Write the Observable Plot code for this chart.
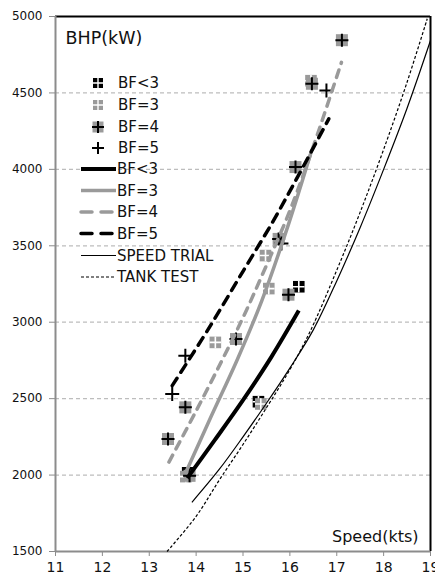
<!DOCTYPE html>
<html><head><meta charset="utf-8">
<script src="https://cdn.jsdelivr.net/npm/d3@7"></script>
<script src="https://cdn.jsdelivr.net/npm/@observablehq/plot@0.6"></script>
<style>body{margin:0;background:#fff}#chart{width:435px;height:578px}</style>
</head><body><div id="chart"></div>
<script>
// ---- tick labels ----
const xTicks = [11, 12, 13, 14, 15, 16, 17, 18, 19];
const yTicks = [1500, 2000, 2500, 3000, 3500, 4000, 4500, 5000];
const gridY = [2000, 2500, 3000, 3500, 4000, 4500];

// ---- measured points ----
const bfLt3X = [13.82, 15.33, 16.19];
const bfLt3Y = [2015, 2480, 3232];
const bf3X = [13.78, 14.41, 15.38, 15.48, 15.55, 16.45];
const bf3Y = [1990, 2868, 2465, 3436, 3220, 4580];
const bf4X = [13.40, 13.77, 13.86, 14.85, 15.76, 15.97, 16.12, 16.47, 17.11];
const bf4Y = [2236, 2443, 1995, 2890, 3545, 3180, 4015, 4560, 4845];
const bf5X = [13.49, 13.77, 15.82, 16.78];
const bf5Y = [2531, 2781, 3515, 4516];

// ---- fitted curves ----
const fitLt3X = [13.81, 14.4, 15.0, 15.6, 16.19];
const fitLt3Y = [1980, 2230, 2490, 2770, 3076];
const fit3X = [13.77, 14.3, 14.87, 15.4, 15.97, 16.47];
const fit3Y = [2010, 2370, 2750, 3140, 3640, 4130];
const fit4X = [13.42, 14.0, 14.55, 15.0, 15.44, 16.0, 16.5, 17.1];
const fit4Y = [2085, 2420, 2749, 3030, 3330, 3730, 4150, 4700];
const fit5X = [13.49, 14.25, 15.01, 15.65, 16.2, 16.83];
const fit5Y = [2585, 2950, 3338, 3665, 3970, 4330];
const trialX = [13.91, 14.5, 15.0, 15.5, 16.0, 16.5, 17.0, 17.5, 18.0, 18.5, 19.0];
const trialY = [1822, 2040, 2250, 2470, 2700, 2950, 3270, 3620, 4000, 4400, 4843];
const tankX = [13.38, 14.0, 14.5, 15.0, 15.5, 16.0, 16.44, 17.0, 17.5, 18.0, 18.5, 18.93];
const tankY = [1500, 1730, 1970, 2200, 2440, 2690, 2945, 3340, 3720, 4130, 4570, 4985];

const zip = (xs, ys) => xs.map((x, i) => ({x, y: ys[i]}));

// ---- custom symbols ----
const squareSym = {draw(ctx, size) {const h = Math.sqrt(size / Math.PI); ctx.moveTo(-h, -h); ctx.lineTo(h, -h); ctx.lineTo(h, h); ctx.lineTo(-h, h); ctx.closePath();}};
const plusSym = {draw(ctx, size) {const h = Math.sqrt(size / Math.PI); ctx.moveTo(-h, 0); ctx.lineTo(h, 0); ctx.moveTo(0, -h); ctx.lineTo(0, h);}};

const GRAY = "#9a9a9a";
const FONT = "DejaVu Sans";

function crossedSquares(data, color) {
  return [
    Plot.dot(data, {x: "x", y: "y", symbol: squareSym, r: 5.8, fill: color, stroke: "none"}),
    Plot.dot(data, {x: "x", y: "y", symbol: plusSym, r: 5.8, stroke: "#fff", strokeWidth: 1.6, fill: "none"})
  ];
}

const lineStyles = [
  {data: zip(fitLt3X, fitLt3Y), stroke: "#000", strokeWidth: 4, dash: null},
  {data: zip(fit3X, fit3Y), stroke: GRAY, strokeWidth: 3.5, dash: null},
  {data: zip(fit4X, fit4Y), stroke: GRAY, strokeWidth: 3.5, dash: "8,7"},
  {data: zip(fit5X, fit5Y), stroke: "#000", strokeWidth: 3.5, dash: "9,7"},
  {data: zip(trialX, trialY), stroke: "#000", strokeWidth: 1.2, dash: null},
  {data: zip(tankX, tankY), stroke: "#000", strokeWidth: 1.2, dash: "3,2"}
];

const plot = Plot.plot({
  width: 435, height: 578,
  marginLeft: 55, marginRight: 5, marginTop: 16, marginBottom: 27,
  x: {domain: [11, 19]},
  y: {domain: [1500, 5000]},
  style: {fontFamily: "'DejaVu Sans'", background: "#fff", color: "#000"},
  marks: [
    Plot.ruleY(gridY, {stroke: "#bdbdbd", strokeWidth: 1.3, strokeDasharray: "4,3"}),
    Plot.ruleY([5000], {stroke: "#000", strokeWidth: 2}),
    Plot.ruleX([19], {stroke: "#000", strokeWidth: 2}),
    Plot.ruleX([11], {stroke: "#8c8c8c", strokeWidth: 2}),
    Plot.ruleY([1500], {stroke: "#8c8c8c", strokeWidth: 2}),
    Plot.axisY({ticks: yTicks, tickSize: 6, tickPadding: 7, fontSize: 12, label: null, stroke: "#8c8c8c", fill: "#111", tickFormat: d3.format("d")}),
    Plot.axisX({ticks: xTicks, tickSize: 5, tickPadding: 6, fontSize: 14, label: null, stroke: "#8c8c8c", fill: "#111", tickFormat: d3.format("d")}),
    ...crossedSquares(zip(bfLt3X, bfLt3Y), "#000"),
    ...crossedSquares(zip(bf3X, bf3Y), GRAY),
    Plot.dot(zip(bf4X, bf4Y), {x: "x", y: "y", symbol: squareSym, r: 6, fill: GRAY, stroke: "none"}),
    Plot.dot(zip(bf4X, bf4Y), {x: "x", y: "y", symbol: plusSym, r: 6.5, stroke: "#000", strokeWidth: 2, fill: "none"}),
    Plot.dot(zip(bf5X, bf5Y), {x: "x", y: "y", symbol: plusSym, r: 7, stroke: "#000", strokeWidth: 2, fill: "none"}),
    ...lineStyles.map(s => Plot.line(s.data, {x: "x", y: "y", curve: "catmull-rom", stroke: s.stroke, strokeWidth: s.strokeWidth, strokeDasharray: s.dash ?? undefined, strokeLinecap: s.dash && s.strokeWidth > 2 ? "round" : "butt"})),
    Plot.text(["BHP(kW)"], {frameAnchor: "top-left", dx: 10, dy: 22, textAnchor: "start", lineAnchor: "middle", fontSize: 17.5, fill: "#111"}),
    Plot.text(["Speed(kts)"], {frameAnchor: "bottom-right", dx: -12, dy: -15, textAnchor: "end", lineAnchor: "middle", fontSize: 16, fill: "#111"})
  ]
});
document.getElementById("chart").appendChild(plot);

// ---- legend (inside plot area) ----
const svg = d3.select(plot);
const lg = svg.append("g").attr("font-family", FONT).attr("font-size", 15).attr("fill", "#111").attr("text-anchor", "start");
const symPath = (sym, r) => {const p = d3.path(); sym.draw(p, Math.PI * r * r); return p.toString();};
const markerItems = [
  {label: "BF<3", kind: "sq", color: "#000"},
  {label: "BF=3", kind: "sq", color: GRAY},
  {label: "BF=4", kind: "sqplus"},
  {label: "BF=5", kind: "plus"}
];
const markerRows = [83, 105, 127, 148];
markerItems.forEach((m, i) => {
  const g = lg.append("g").attr("transform", `translate(98,${markerRows[i]})`);
  if (m.kind === "sq") {
    g.append("path").attr("d", symPath(squareSym, 5)).attr("fill", m.color);
    g.append("path").attr("d", symPath(plusSym, 5)).attr("stroke", "#fff").attr("stroke-width", 1.4).attr("fill", "none");
  } else if (m.kind === "sqplus") {
    g.append("path").attr("d", symPath(squareSym, 5.5)).attr("fill", GRAY);
    g.append("path").attr("d", symPath(plusSym, 6)).attr("stroke", "#000").attr("stroke-width", 2).attr("fill", "none");
  } else {
    g.append("path").attr("d", symPath(plusSym, 6)).attr("stroke", "#000").attr("stroke-width", 2).attr("fill", "none");
  }
  lg.append("text").attr("x", 118).attr("y", markerRows[i]).attr("dy", "0.36em").attr("text-anchor", "start").text(m.label);
});
const lineLabels = ["BF<3", "BF=3", "BF=4", "BF=5", "SPEED TRIAL", "TANK TEST"];
const lineRows = [169, 190.5, 212, 233.5, 255.5, 277];
lineLabels.forEach((t, i) => {
  const s = lineStyles[i];
  lg.append("line").attr("x1", 81).attr("x2", 116).attr("y1", lineRows[i]).attr("y2", lineRows[i])
    .attr("stroke", s.stroke).attr("stroke-width", s.strokeWidth)
    .attr("stroke-dasharray", s.dash ? (s.strokeWidth > 2 ? "11,9" : "3,2") : null)
    .attr("stroke-linecap", s.dash && s.strokeWidth > 2 ? "round" : "butt");
  lg.append("text").attr("x", 117).attr("y", lineRows[i]).attr("dy", "0.36em").attr("text-anchor", "start").text(t);
});
</script>
</body></html>
